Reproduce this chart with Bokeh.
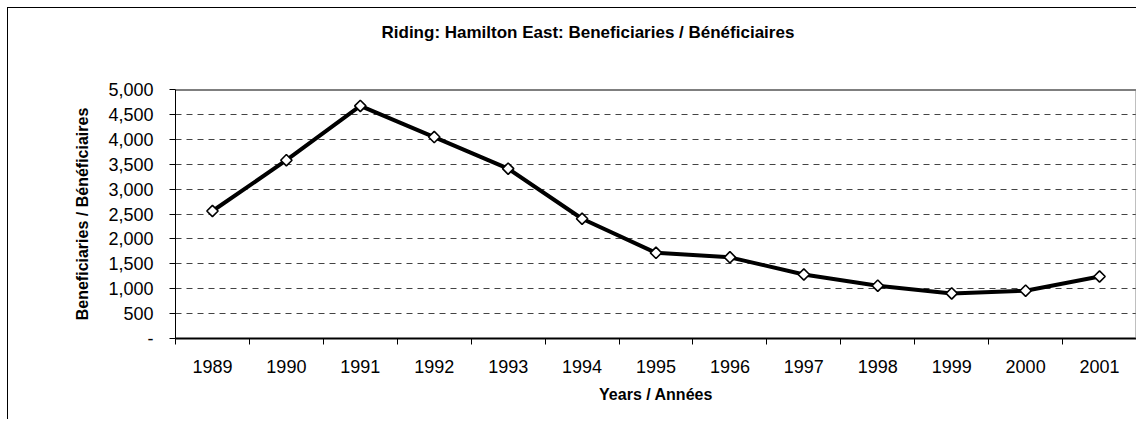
from bokeh.plotting import figure
from bokeh.models import (Range1d, FixedTicker, NumeralTickFormatter, CustomJSTickFormatter,
                          Span, ColumnDataSource, Title)
from bokeh.embed import file_html
from bokeh.resources import INLINE

# ---- data ----
years = ["1989", "1990", "1991", "1992", "1993", "1994", "1995",
         "1996", "1997", "1998", "1999", "2000", "2001"]
beneficiaries = [2560, 3580, 4670, 4045, 3410, 2405, 1720, 1630, 1285, 1060, 905, 960, 1245]
y_ticks = [0, 500, 1000, 1500, 2000, 2500, 3000, 3500, 4000, 4500, 5000]
title_text = "Riding:  Hamilton East:  Beneficiaries / Bénéficiaires"
x_title = "Years / Années"
y_title = "Beneficiaries / Bénéficiaires"

BOLD = "'Liberation Sans', Arial"
REG = "'Liberation Sans', Arial"

xs = [i + 0.5 for i in range(len(years))]
src = ColumnDataSource(data=dict(x=xs, y=beneficiaries))

p = figure(width=1129, height=412, output_backend="svg", toolbar_location=None,
           x_range=Range1d(0, len(years)), y_range=Range1d(0, 5000),
           min_border_left=167, min_border_right=1, min_border_top=79, min_border_bottom=82)
p.styles = {"margin-left": "7px", "margin-top": "7px",
            "border-left": "1px solid black", "border-top": "1px solid black"}
p.background_fill_color = "white"
p.border_fill_color = "white"
p.outline_line_color = None

# title (outermost) plus an empty spacer between it and the frame
p.title.text = title_text
p.title.align = "left"
p.title.offset = 206
p.title.standoff = 29
p.title.vertical_align = "top"
p.title.text_font = BOLD
p.title.text_font_style = "bold"
p.title.text_font_size = "17px"
p.title.text_color = "black"
p.add_layout(Title(text=" ", text_font_size="1px", standoff=28), "above")

# x axis
p.xaxis.ticker = FixedTicker(ticks=xs, minor_ticks=list(range(len(years) + 1)))
p.xaxis.formatter = CustomJSTickFormatter(args=dict(years=years),
                                          code="return years[Math.floor(tick)] || '';")
p.xaxis.major_tick_out = 0
p.xaxis.major_tick_in = 0
p.xaxis.minor_tick_out = 6
p.xaxis.minor_tick_in = 0
p.xaxis.minor_tick_line_color = "black"
p.xaxis.axis_line_width = 2
p.xaxis.axis_line_color = "black"
p.xaxis.major_label_text_font = REG
p.xaxis.major_label_text_font_size = "18px"
p.xaxis.major_label_text_color = "black"
p.xaxis.major_label_standoff = 15
p.xaxis.axis_label = x_title
p.xaxis.axis_label_text_font = BOLD
p.xaxis.axis_label_text_font_style = "bold"
p.xaxis.axis_label_text_font_size = "16px"
p.xaxis.axis_label_text_color = "black"
p.xaxis.axis_label_standoff = 10
p.xgrid.grid_line_color = None

# y axis
p.yaxis.ticker = FixedTicker(ticks=y_ticks)
p.yaxis.formatter = NumeralTickFormatter(format="0,0")
p.yaxis.major_label_overrides = {0: "-"}
p.yaxis.major_tick_out = 6
p.yaxis.major_tick_in = 0
p.yaxis.minor_tick_line_color = None
p.yaxis.major_tick_line_color = "black"
p.yaxis.axis_line_color = "black"
p.yaxis.major_label_text_font = REG
p.yaxis.major_label_text_font_size = "18px"
p.yaxis.major_label_text_color = "black"
p.yaxis.major_label_standoff = 16
p.yaxis.axis_label = y_title
p.yaxis.axis_label_text_font = BOLD
p.yaxis.axis_label_text_font_style = "bold"
p.yaxis.axis_label_text_font_size = "16px"
p.yaxis.axis_label_text_color = "black"
p.yaxis.axis_label_standoff = 14
p.ygrid.grid_line_color = "#444444"
p.ygrid.grid_line_dash = "6 5"
p.ygrid.grid_line_width = 1

# top (solid) line and right frame edge
p.add_layout(Span(location=y_ticks[-1], dimension="width", line_color="black", line_width=2))
p.add_layout(Span(location=len(years), dimension="height", line_color="#808080", line_width=2))

# series
p.line("x", "y", source=src, line_color="black", line_width=4, line_join="round")
p.scatter("x", "y", source=src, marker="square", angle=0.785398, size=8,
          fill_color="white", line_color="black", line_width=1.6)

open("out.html", "w").write(file_html(p, INLINE))
